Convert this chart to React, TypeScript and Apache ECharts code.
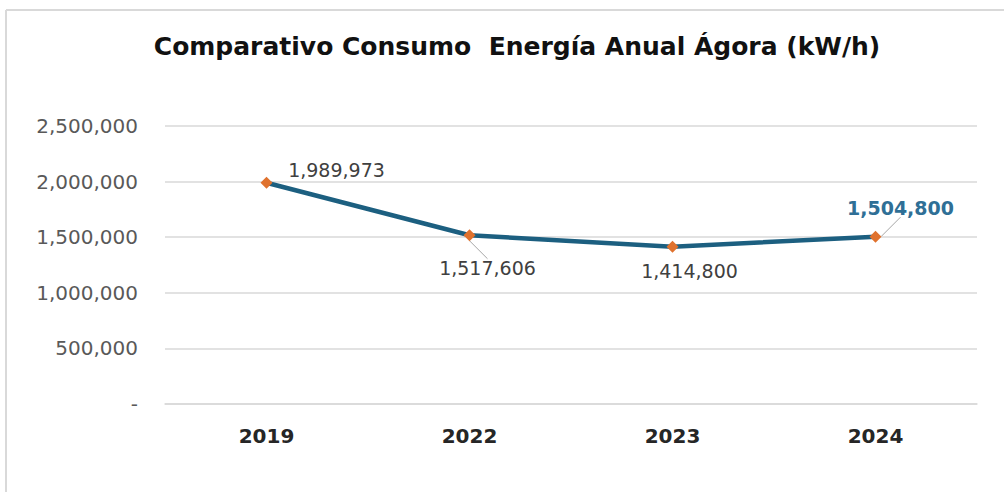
import React, { useEffect, useRef } from "react";
import * as echarts from "echarts";

const categories = ["2019", "2022", "2023", "2024"];
const consumo = [1989973, 1517606, 1414800, 1504800];
const yTicks = [0, 500000, 1000000, 1500000, 2000000, 2500000];
const titleText = "Comparativo Consumo  Energía Anual Ágora (kW/h)";

const fmt = (v: number) => (v === 0 ? "-" : v.toLocaleString("en-US"));

export default function App() {
  const ref = useRef<HTMLDivElement>(null);
  useEffect(() => {
    if (!ref.current) return;
    const chart = echarts.init(ref.current, undefined, { renderer: "svg" });
    const labelOffsets: [number, number][] = [
      [70, -13],
      [18, 33],
      [17, 24],
      [25, -29],
    ];
    const leader = [false, true, false, true];
    chart.setOption({
      animation: false,
      backgroundColor: "#ffffff",
      title: {
        text: titleText,
        left: 512,
        textAlign: "center",
        top: 29,
        textStyle: {
          fontFamily: "DejaVu Sans",
          fontWeight: "bold",
          fontSize: 25,
          color: "#111111",
        },
      },
      graphic: [
        {
          type: "line",
          shape: { x1: 6, y1: 10, x2: 1004, y2: 10 },
          style: { stroke: "#d9d9d9", lineWidth: 2 },
          silent: true,
        },
        {
          type: "line",
          shape: { x1: 6, y1: 10, x2: 6, y2: 492 },
          style: { stroke: "#d9d9d9", lineWidth: 2 },
          silent: true,
        },
      ],
      grid: { left: 165, right: 27, top: 126, bottom: 88 },
      xAxis: {
        type: "category",
        data: categories,
        boundaryGap: true,
        axisLine: { show: true, lineStyle: { color: "#d9d9d9", width: 1.5 } },
        axisTick: { show: false },
        axisLabel: {
          margin: 22,
          fontFamily: "DejaVu Sans",
          fontWeight: "bold",
          fontSize: 20,
          color: "#262626",
        },
      },
      yAxis: {
        type: "value",
        min: yTicks[0],
        max: yTicks[yTicks.length - 1],
        interval: yTicks[1] - yTicks[0],
        axisLine: { show: false },
        axisTick: { show: false },
        splitLine: { lineStyle: { color: "#d9d9d9", width: 1.5 } },
        axisLabel: {
          margin: 27,
          fontFamily: "DejaVu Sans",
          fontSize: 20,
          color: "#595959",
          formatter: (v: number) => fmt(v),
        },
      },
      series: [
        {
          type: "line",
          data: consumo.map((v, i) => ({
            value: v,
            label: {
              show: true,
              position: "inside",
              align: "center",
              verticalAlign: "middle",
              fontFamily: "DejaVu Sans",
              fontSize: 19,
              fontWeight: i === 3 ? "bold" : "normal",
              color: i === 3 ? "#2f6f96" : "#404040",
              formatter: () => fmt(v),
            },
            labelLine: {
              show: leader[i],
              lineStyle: { color: "#a6a6a6", width: 1 },
            },
          })),
          labelLayout: (p: any) => ({
            dx: labelOffsets[p.dataIndex][0],
            dy: labelOffsets[p.dataIndex][1],
          }),
          lineStyle: { color: "#1c5f80", width: 4.5 },
          symbol: "diamond",
          symbolSize: 12,
          itemStyle: { color: "#e0722e" },
          z: 3,
        },
      ],
    });
    return () => chart.dispose();
  }, []);
  return (
    <div
      ref={ref}
      style={{ position: "absolute", left: 0, top: 0, width: 1004, height: 492 }}
    />
  );
}
